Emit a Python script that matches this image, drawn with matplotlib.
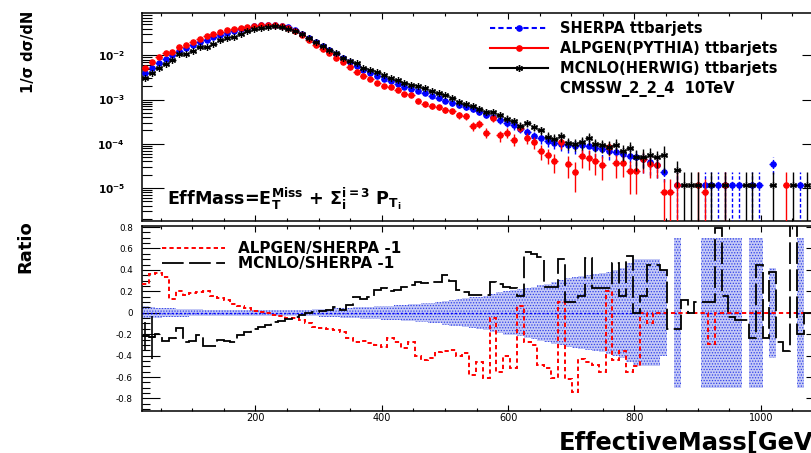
import numpy as np
import matplotlib
matplotlib.use("Agg")
import matplotlib.pyplot as plt
from matplotlib.lines import Line2D
from matplotlib.ticker import MultipleLocator, LogLocator, NullFormatter, FuncFormatter

plt.rcParams['font.family'] = ['DejaVu Sans']
plt.rcParams['mathtext.fontset'] = 'dejavusans'
plt.rcParams['hatch.linewidth'] = 0.6

# ---------------- data ----------------
x_range = (20.0, 1100.0)
n_bins = 100

# SHERPA normalised distribution (per bin)
sherpa = [
    3.96e-3, 5.14e-3, 6.50e-3, 8.38e-3, 1.03e-2, 1.245e-2, 1.485e-2, 1.72e-2, 1.98e-2, 2.26e-2,
    2.56e-2, 2.90e-2, 3.25e-2, 3.56e-2, 3.88e-2, 4.22e-2, 4.54e-2, 4.78e-2, 4.93e-2, 4.93e-2,
    4.68e-2, 4.25e-2, 3.69e-2, 3.03e-2, 2.47e-2, 2.00e-2, 1.61e-2, 1.30e-2, 1.05e-2, 8.51e-3,
    6.98e-3, 5.70e-3, 4.63e-3, 3.94e-3, 3.43e-3, 2.96e-3, 2.57e-3, 2.24e-3, 1.94e-3, 1.73e-3,
    1.56e-3, 1.40e-3, 1.225e-3, 1.06e-3, 9.2e-4, 8.3e-4, 7.43e-4, 6.70e-4, 6.01e-4, 5.28e-4,
    4.58e-4, 3.98e-4, 3.44e-4, 2.99e-4, 2.60e-4, 2.20e-4, 1.85e-4, 1.54e-4, 1.33e-4, 1.17e-4,
    1.05e-4, 9.75e-5, 9.25e-5, 8.9e-5, 9.25e-5, 8.9e-5, 8.0e-5, 7.5e-5, 6.95e-5, 6.46e-5,
    5.8e-5, 5.33e-5, 4.93e-5, 4.45e-5, 3.88e-5, 3.41e-5, 2.3e-5, 0, 1.17e-5, 0,
    0, 0, 1.17e-5, 1.17e-5, 1.17e-5, 1.17e-5, 1.17e-5, 1.17e-5, 0, 1.17e-5,
    1.17e-5, 0, 3.5e-5, 0, 0, 0, 1.17e-5, 0, 0, 0]

# ratio panel: ALPGEN/SHERPA - 1
alpgen_ratio = [
    0.27, 0.36, 0.37, 0.33, 0.13, 0.20, 0.17, 0.18, 0.19, 0.20,
    0.16, 0.14, 0.12, 0.08, 0.06, 0.04, 0.02, 0.01, 0.00, -0.02,
    -0.03, -0.05, -0.05, -0.07, -0.10, -0.13, -0.14, -0.15, -0.16, -0.18,
    -0.24, -0.27, -0.26, -0.28, -0.30, -0.32, -0.24, -0.27, -0.33, -0.27,
    -0.40, -0.44, -0.42, -0.37, -0.36, -0.35, -0.40, -0.38, -0.58, -0.46,
    -0.61, -0.05, -0.55, -0.40, -0.52, 0.06, -0.27, -0.30, -0.49, -0.52,
    -0.61, 0.10, -0.62, -0.74, -0.43, -0.46, -0.49, -0.55, 0.20, -0.44,
    -0.36, -0.55, -0.50, 0.00, -0.10, 0, 0, 0, 0, 0,
    0, 0, 0, -0.29, 0, 0, 0, 0, 0, 0,
    0, 0, 0, 0, 0, 0, 0, 0, 0, 0]

# ratio panel: MCNLO/SHERPA - 1
mcnlo_ratio = [
    -0.22, -0.23, -0.20, -0.26, -0.24, -0.14, -0.27, -0.26, -0.21, -0.31,
    -0.31, -0.25, -0.26, -0.27, -0.21, -0.18, -0.15, -0.13, -0.11, -0.09,
    -0.08, -0.06, -0.04, -0.02, 0.00, 0.01, 0.02, 0.03, 0.056, 0.025,
    0.07, 0.15, 0.13, 0.15, 0.21, 0.23, 0.20, 0.21, 0.24, 0.26,
    0.29, 0.28, 0.29, 0.29, 0.35, 0.30, 0.21, 0.19, 0.17, 0.17,
    0.17, 0.29, 0.27, 0.24, 0.23, 0.16, 0.57, 0.55, 0.52, 0.24,
    0.24, 0.50, 0.10, 0.10, 0.16, 0.51, 0.23, 0.23, 0.23, 0.46,
    0.16, 0.53, 0.00, 0.16, 0.45, 0.45, 0.40, -0.15, -0.15, 0.12,
    0.00, 0.10, 0.10, 0.10, 0.79, 0.16, -0.04, -0.07, -0.07, -0.24,
    0.45, -0.24, 0.38, -0.27, -0.36, 0.90, -0.20, 0.00, 0.00, 0.00]
mcnlo_ratio_err_first = [0.13, 0.20]

# SHERPA relative statistical error (band half-width in the ratio panel)
nan = float('nan')
sherpa_relerr = [
    0.06, 0.053, 0.047, 0.043, 0.04, 0.037, 0.035, 0.033, 0.031, 0.03,
    0.028, 0.027, 0.026, 0.026, 0.026, 0.026, 0.026, 0.026, 0.026, 0.026,
    0.026, 0.026, 0.027, 0.028, 0.03, 0.033, 0.035, 0.038, 0.041, 0.045,
    0.047, 0.051, 0.054, 0.057, 0.06, 0.064, 0.067, 0.07, 0.074, 0.079,
    0.084, 0.088, 0.094, 0.10, 0.11, 0.12, 0.127, 0.135, 0.143, 0.15,
    0.16, 0.175, 0.19, 0.203, 0.21, 0.22, 0.235, 0.245, 0.26, 0.27,
    0.29, 0.305, 0.32, 0.33, 0.34, 0.35, 0.36, 0.37, 0.385, 0.40,
    0.42, 0.46, 0.5, 0.5, 0.5, 0.5, 0.4, nan, 0.7, nan,
    nan, nan, 0.7, 0.7, 0.7, 0.7, 0.7, 0.7, nan, 0.7,
    0.7, nan, 0.42, nan, nan, nan, 0.7, nan, nan, nan]

# upper-panel tail (bins 76..99) of ALPGEN and MCNLO (single-event level)
tail_start = 76
alpgen_tail = [0.8e-5, 0.8e-5, 1.17e-5, 0, 0, 1.17e-5, 0.8e-5, 0, 0, 1.17e-5,
               0, 0, 0, 0, 0, 0, 0, 0, 1.17e-5, 0, 0, 0, 0, 0]
mcnlo_tail = [5.6e-5, 0, 2.6e-5, 1.17e-5, 1.17e-5, 1.17e-5, 0, 1.17e-5, 0, 1.17e-5,
              0, 0, 1.17e-5, 1.17e-5, 0, 0, 1.17e-5, 0, 0, 1.17e-5, 0, 1.17e-5, 0, 0]

labels_top = ["SHERPA ttbarjets", "ALPGEN(PYTHIA) ttbarjets",
              "MCNLO(HERWIG) ttbarjets", "CMSSW_2_2_4  10TeV"]
labels_ratio = ["ALPGEN/SHERPA -1", "MCNLO/SHERPA -1"]

# ---------------- derived ----------------
edges = np.linspace(x_range[0], x_range[1], n_bins + 1)
centers = 0.5 * (edges[:-1] + edges[1:])
binw = edges[1] - edges[0]

s = np.array(sherpa, float)
ra = np.array(alpgen_ratio, float)
rm = np.array(mcnlo_ratio, float)
band = np.array(sherpa_relerr, float)

alp = s * (1 + ra)
mcn = s * (1 + rm)
alp[tail_start:] = alpgen_tail
mcn[tail_start:] = mcnlo_tail

rel_s = np.where(np.isnan(band), 1.0, band)
rel_s = np.where(band >= 0.69, 1.0, rel_s)
rel_a = np.minimum(rel_s / np.sqrt(np.clip(1 + ra, 0.25, None)), 1.0)
rel_m = np.minimum(rel_s / np.sqrt(np.clip(1 + rm, 0.25, None)), 1.0)
rel_a[tail_start:] = np.where(alp[tail_start:] <= 1.2e-5, 1.0, 0.6)
rel_m[tail_start:] = np.where(mcn[tail_start:] <= 1.2e-5, 1.0, 0.6)

# ---------------- figure ----------------
W, H = 812, 453
fig = plt.figure(figsize=(W / 100, H / 100), dpi=100)
L = 141.7 / W
Wd = (824.0 - 141.7) / W
ax1 = fig.add_axes([L, (H - 221) / H, Wd, (221 - 13) / H])
ax2 = fig.add_axes([L, (H - 411) / H, Wd, (411 - 226) / H])

for ax in (ax1, ax2):
    for sp in ax.spines.values():
        sp.set_linewidth(1.1)
    ax.set_xlim(*x_range)
    ax.xaxis.set_major_locator(MultipleLocator(200))
    ax.xaxis.set_minor_locator(MultipleLocator(50))
    ax.tick_params(which='both', direction='in', top=True, right=True, width=0.8)
    ax.tick_params(axis='x', which='major', length=4.5)
    ax.tick_params(axis='x', which='minor', length=2.5)


def draw_points(ax, y, rel, color, marker, ms, ls_err, z):
    y = np.asarray(y, float)
    m = y > 0
    lo = np.where(rel >= 1.0, y * 0.99999, y * rel)
    hi = y * rel
    eb = ax.errorbar(centers[m], y[m], yerr=[lo[m], hi[m]], xerr=binw / 2,
                     marker=marker, color=color, ms=ms, mew=0.9, elinewidth=1.0,
                     capsize=0, linestyle='none', zorder=z)
    for lc in eb[2]:
        lc.set_linestyle(ls_err)
    return eb


ax1.set_yscale('log')
draw_points(ax1, s, rel_s, 'blue', 'o', 3.8, (0, (2.5, 1.5)), 3)
draw_points(ax1, alp, rel_a, 'red', 'o', 3.8, '-', 4)
draw_points(ax1, mcn, rel_m, 'black', (6, 2, 0), 5, '-', 5)
ax1.set_ylim(1.81e-6, 0.0897)
ax1.yaxis.set_major_locator(LogLocator(base=10, numticks=20))
ax1.yaxis.set_minor_locator(LogLocator(base=10, subs=np.arange(2, 10), numticks=20))
ax1.yaxis.set_minor_formatter(NullFormatter())
ax1.yaxis.set_major_formatter(FuncFormatter(
    lambda v, p: r'$\mathbf{10}^{\mathbf{%d}}$' % int(round(np.log10(v)))))
ax1.tick_params(axis='y', which='major', length=16, labelsize=7.6, pad=12)
ax1.tick_params(axis='y', which='minor', length=7)
ax1.tick_params(axis='x', labelbottom=False)

h_top = [Line2D([], [], color='blue', ls=(0, (2.5, 1.5)), marker='o', ms=3.8),
         Line2D([], [], color='red', ls='-', marker='o', ms=3.8),
         Line2D([], [], color='black', ls='-', marker=(6, 2, 0), ms=5),
         Line2D([], [], color='none')]
ax1.legend(h_top, labels_top, loc='upper left', bbox_to_anchor=(0.5105, 0.962),
           frameon=False, prop={'size': 10.5, 'weight': 'bold'}, handlelength=4.0,
           handletextpad=0.8, labelspacing=0.34, borderaxespad=0, borderpad=0)

ax1.text(0.037, 0.077,
         r'EffMass=E$_{\mathbf{T}}^{\mathbf{Miss}}$ + $\mathbf{\Sigma}_{\mathbf{i}}^{\mathbf{i=3}}$ P$_{\mathbf{T}_{\mathbf{i}}}$',
         transform=ax1.transAxes, fontsize=12.6, fontweight='bold', va='baseline', ha='left')

# ratio panel
ax2.bar(centers, 2 * band, bottom=-band, width=binw, facecolor='#c5caf6',
        edgecolor='#2f3fe8', linewidth=0, hatch='......', zorder=1)
zero_line = np.where(np.isnan(band), np.nan, 0.0)
ax2.stairs(zero_line, edges, color='blue', ls=(0, (1.5, 1.5)), lw=1.0, baseline=None, zorder=2)
ax2.stairs(ra, edges, color='red', ls=(0, (2.2, 1.6)), lw=1.4, baseline=None, zorder=3)
ax2.stairs(rm, edges, color='black', ls=(0, (12, 3)), lw=1.3, baseline=None, zorder=4)
ax2.errorbar(centers[:len(mcnlo_ratio_err_first)], rm[:len(mcnlo_ratio_err_first)],
             yerr=mcnlo_ratio_err_first, xerr=binw / 2, fmt='none', ecolor='black',
             elinewidth=1.2, capsize=0, zorder=4)
ax2.set_ylim(-0.917, 0.81)
ax2.yaxis.set_major_locator(MultipleLocator(0.2))
ax2.yaxis.set_minor_locator(MultipleLocator(0.05))
ax2.yaxis.set_major_formatter(FuncFormatter(
    lambda v, p: '0' if abs(v) < 1e-9 else '%.1f' % v))
ax2.tick_params(axis='y', which='major', length=13, labelsize=6.3, pad=6.3)
ax2.tick_params(axis='y', which='minor', length=6)
ax2.tick_params(axis='x', which='major', labelsize=7, pad=1.5)

h_rat = [Line2D([], [], color='red', ls=(0, (2.2, 1.6)), lw=1.4),
         Line2D([], [], color='black', ls=(0, (12, 3)), lw=1.3)]
ax2.legend(h_rat, labels_ratio, loc='upper left', bbox_to_anchor=(0.0298, 0.918),
           frameon=False, prop={'size': 11, 'weight': 'bold'}, handlelength=4.1,
           handletextpad=0.85, labelspacing=0.0, borderaxespad=0, borderpad=0)

# axis titles
fig.text(29 / W, 1 - 52 / H, '1/σ dσ/dN', rotation=90, ha='center', va='center',
         fontsize=10.5, fontweight='bold')
fig.text(25 / W, 1 - 247 / H, 'Ratio', rotation=90, ha='center', va='center',
         fontsize=13, fontweight='bold')
fig.text(824 / W, 1 - 450 / H, 'EffectiveMass[GeV]', ha='right', va='baseline',
         fontsize=17.4, fontweight='bold')

fig.savefig('out.png', dpi=100)
